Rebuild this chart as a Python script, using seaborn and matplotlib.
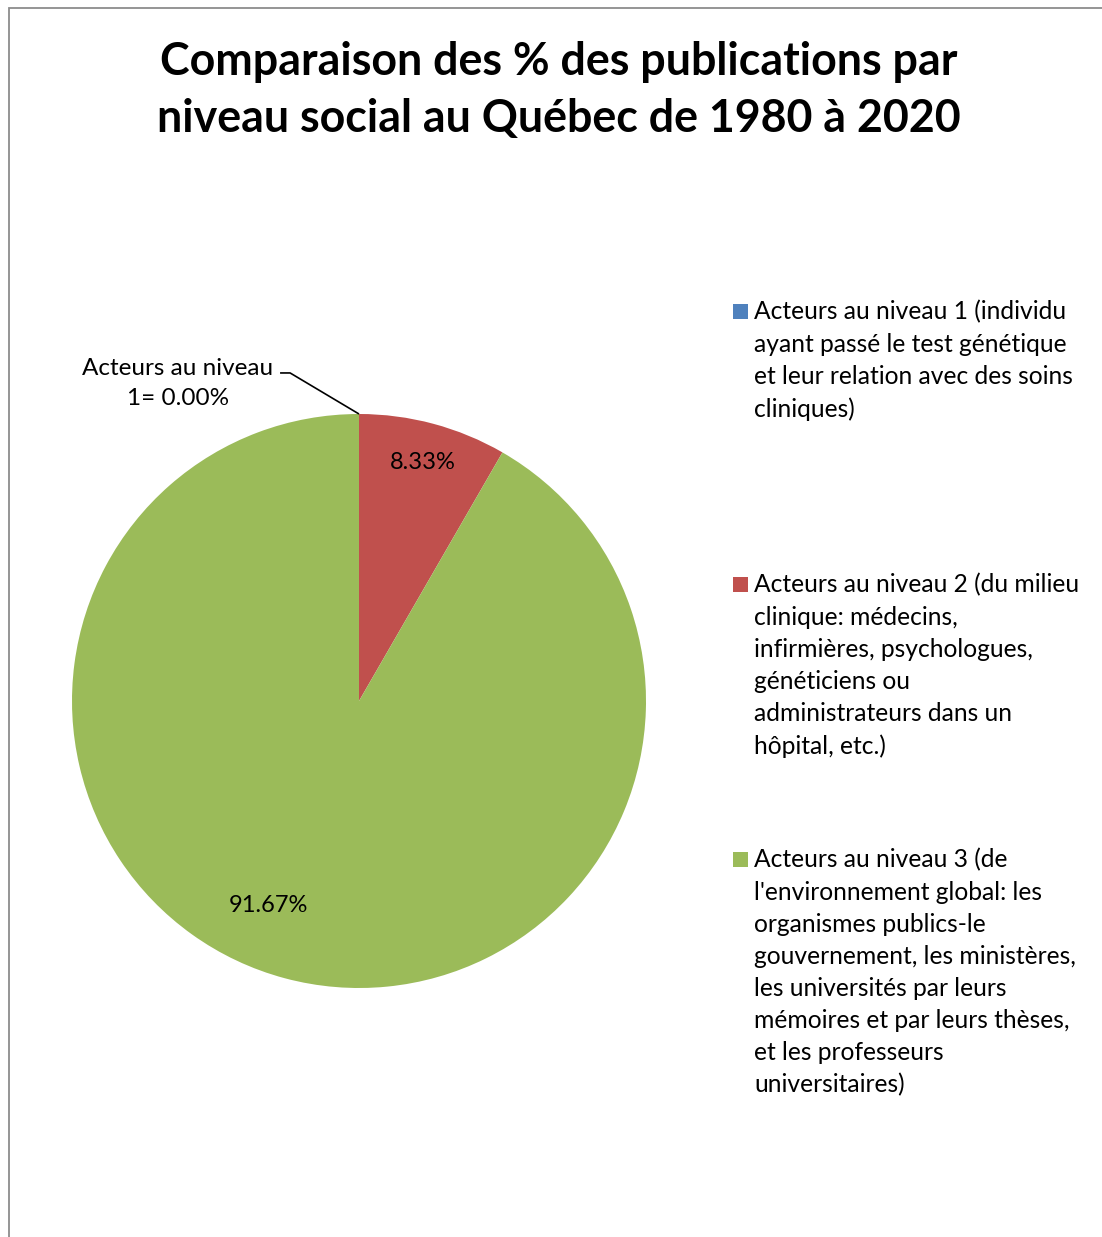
import matplotlib
matplotlib.use("Agg")
import matplotlib.pyplot as plt
from matplotlib.patches import Rectangle
import numpy as np
import seaborn as sns

# Data
categories = [
    "Acteurs au niveau 1 (individu\nayant passé le test génétique\net leur relation avec des soins\ncliniques)",
    "Acteurs au niveau 2 (du milieu\nclinique: médecins,\ninfirmières, psychologues,\ngénéticiens ou\nadministrateurs dans un\nhôpital, etc.)",
    "Acteurs au niveau 3 (de\nl'environnement global: les\norganismes publics-le\ngouvernement, les ministères,\nles universités par leurs\nmémoires et par leurs thèses,\net les professeurs\nuniversitaires)",
]
values = [0.0, 8.33, 91.67]
short_names = ["Acteurs au niveau\n1", "Acteurs au niveau\n2", "Acteurs au niveau\n3"]
title = "Comparaison des % des publications par\nniveau social au Québec de 1980 à 2020"

sns.set_theme(style="white")
plt.rcParams["font.family"] = ["Lato", "DejaVu Sans"]
plt.rcParams["text.color"] = "black"
colors = sns.color_palette(["#4F81BD", "#C0504D", "#9BBB59"])

W, H = 1102, 1237
fig = plt.figure(figsize=(W / 100, H / 100), dpi=100)

# Outer chart frame (left and top edges visible)
fig.patches.append(Rectangle((9 / W, -0.1), 1.2, 1 - 8 / H + 0.1,
                             transform=fig.transFigure, fill=False,
                             edgecolor="#8c8c8c", lw=1.3))

fig.text(559 / W, 1 - 90.5 / H, title, ha="center", va="center",
         fontsize=32.2, fontweight="bold", linespacing=1.45, color="black")

# Pie axes: centre (359, 701) px, radius 287 px
cx, cy, R = 359, 701, 287
ax = fig.add_axes([(cx - R) / W, 1 - (cy + R) / H, 2 * R / W, 2 * R / H])
wedges, _ = ax.pie(values, colors=colors, startangle=90, counterclock=False,
                   radius=1.0, wedgeprops=dict(linewidth=0))
ax.set_xlim(-1, 1)
ax.set_ylim(-1, 1)
ax.set_aspect("equal")
ax.axis("off")

# Percentage labels inside the visible slices
label_pos = {1: (None, 0.86), 2: (246, 0.78)}
for i, (ang, r) in label_pos.items():
    w = wedges[i]
    if ang is None:
        ang = (w.theta1 + w.theta2) / 2
    t = np.deg2rad(ang)
    ax.text(r * np.cos(t), r * np.sin(t), f"{values[i]:.2f}%",
            ha="center", va="center", fontsize=17, color="black")

# Zero slice: label outside with a leader line to the top of the pie
w0 = wedges[0]
t0 = np.deg2rad(w0.theta1)
ax.text(-0.631, 1.106, f"{short_names[0]}= {values[0]:.2f}%",
        ha="center", va="center", fontsize=17.5, linespacing=1.55,
        multialignment="center", clip_on=False, color="black")
ax.plot([-0.275, -0.240, np.cos(t0)], [1.143, 1.143, np.sin(t0)],
        color="black", lw=1.2, clip_on=False, solid_capstyle="butt")

# Legend: one entry per category, centres evenly spaced
centers = [360.5, 665.5, 972.5]
line_h = 32.4
for lab, col, yc in zip(categories, colors, centers):
    n = lab.count("\n") + 1
    fig.text(754 / W, 1 - yc / H, lab, ha="left", va="center",
             fontsize=17.75, linespacing=1.48, color="black")
    y_first = yc - (n - 1) / 2 * line_h
    fig.patches.append(Rectangle((733 / W, 1 - (y_first + 7.5) / H),
                                 15 / W, 15 / H, transform=fig.transFigure,
                                 facecolor=col, edgecolor="none"))

fig.savefig("out.png", dpi=100)
